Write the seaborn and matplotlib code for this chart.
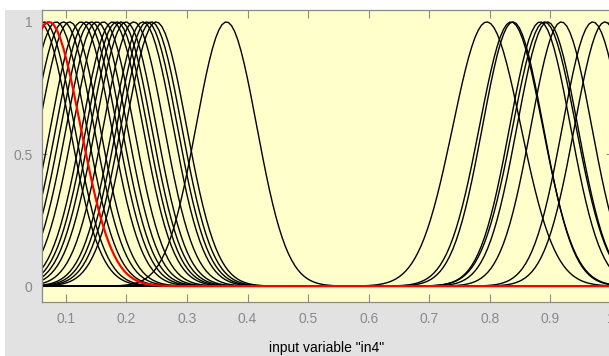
import numpy as np
import pandas as pd
import matplotlib
matplotlib.use("Agg")
import matplotlib.pyplot as plt
import seaborn as sns
from matplotlib.patches import Rectangle

# ---- data ----
x_range = [0.06, 1.0]
n_points = 181
mf_centers = [0.056, 0.064, 0.072, 0.084, 0.096, 0.106,
              0.125, 0.134, 0.142, 0.151, 0.162, 0.177, 0.184, 0.191,
              0.199, 0.212, 0.227, 0.234, 0.241, 0.249,
              0.365,
              0.795, 0.835, 0.838, 0.883, 0.890, 0.895, 0.918, 0.970, 0.990]
mf_sigmas = [0.050, 0.050, 0.052, 0.050, 0.050, 0.050,
             0.050, 0.050, 0.050, 0.050, 0.050, 0.050, 0.050, 0.050,
             0.050, 0.050, 0.050, 0.050, 0.050, 0.050,
             0.050,
             0.056, 0.052, 0.050, 0.050, 0.052, 0.050, 0.050, 0.050, 0.050]
highlight_index = 2
x_ticks = [0.1, 0.2, 0.3, 0.4, 0.5, 0.6, 0.7, 0.8, 0.9, 1.0]
x_tick_labels = ["0.1", "0.2", "0.3", "0.4", "0.5", "0.6", "0.7", "0.8", "0.9", "1"]
y_ticks = [0, 0.5, 1]
y_tick_labels = ["0", "0.5", "1"]
x_label = 'input variable "in4"'

# ---- build long table of membership values (gaussmf) ----
xs = np.linspace(x_range[0], x_range[1], n_points)
rows = []
for i, (c, s) in enumerate(zip(mf_centers, mf_sigmas)):
    mu = np.exp(-((xs - c) ** 2) / (2 * s ** 2))
    rows.append(pd.DataFrame({"mf": i, "x": xs, "mu": mu}))
df = pd.concat(rows, ignore_index=True)
df_black = df[df["mf"] != highlight_index]
df_red = df[df["mf"] == highlight_index]

plt.rcParams["font.family"] = ["Liberation Sans", "DejaVu Sans"]

W, H = 609, 356
fig = plt.figure(figsize=(W / 100, H / 100), dpi=100, facecolor="#e2e2e2")
# white strips at the top and left of the window
fig.patches.append(Rectangle((0, 1 - 10 / H), 1, 10 / H, transform=fig.transFigure,
                             facecolor="white", edgecolor="none", zorder=-5))
fig.patches.append(Rectangle((0, 0), 5 / W, 1, transform=fig.transFigure,
                             facecolor="white", edgecolor="none", zorder=-5))

ax_left, ax_right, ax_top, ax_bot = 41.7, 611, 10, 302
ax = fig.add_axes([ax_left / W, (H - ax_bot) / H, (ax_right - ax_left) / W, (ax_bot - ax_top) / H])
ax.set_facecolor("#ffffcc")

sns.lineplot(data=df_black, x="x", y="mu", units="mf", estimator=None, sort=False,
             color="black", linewidth=1.0, ax=ax, legend=False)
sns.lineplot(data=df_red, x="x", y="mu", estimator=None, sort=False,
             color="red", linewidth=1.6, ax=ax, legend=False, zorder=3)

ax.set_xlim(x_range[0], x_range[1])
ax.set_ylim(-0.06, 1.045)
ax.set_xticks(x_ticks)
ax.set_xticklabels(x_tick_labels)
ax.set_yticks(y_ticks)
ax.set_yticklabels(y_tick_labels)
ax.set_ylabel("")
ax.set_xlabel(x_label, fontsize=10, color="black")
ax.xaxis.set_label_coords(0.5, -50 / (ax_bot - ax_top))
ax.xaxis.label.set_va("baseline")

grey = "#8a8a8a"
ax.tick_params(axis="x", direction="in", length=6, width=0.8, color=grey,
               labelcolor=grey, labelsize=10, pad=7, top=True)
ax.tick_params(axis="y", direction="in", length=3.5, width=0.8, color=grey,
               labelcolor=grey, labelsize=10, pad=6.5, right=True)
for sp in ax.spines.values():
    sp.set_color(grey)
    sp.set_linewidth(0.9)

fig.savefig("out.png", dpi=100, facecolor=fig.get_facecolor())
